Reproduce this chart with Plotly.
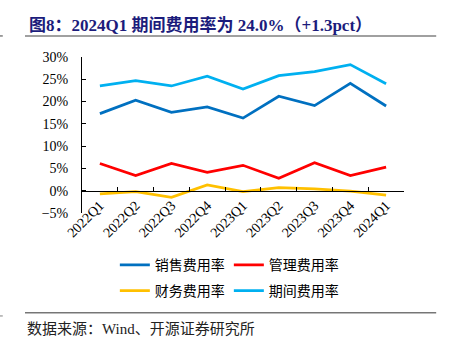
import plotly.graph_objects as go

quarters = ["2022Q1", "2022Q2", "2022Q3", "2022Q4", "2023Q1", "2023Q2", "2023Q3", "2023Q4", "2024Q1"]
sales_rate = [17.3, 20.3, 17.6, 18.8, 16.3, 21.2, 19.1, 24.1, 19.0]
admin_rate = [6.1, 3.4, 6.1, 4.1, 5.7, 2.8, 6.3, 3.4, 5.3]
fin_rate = [-0.7, -0.2, -1.5, 1.3, -0.2, 0.7, 0.4, -0.1, -1.0]
period_rate = [23.5, 24.7, 23.5, 25.7, 22.8, 25.8, 26.7, 28.3, 24.0]

names = ["销售费用率", "管理费用率", "财务费用率", "期间费用率"]
colors = ["#0070C0", "#FF0000", "#FFC000", "#00B0F0"]
series = [sales_rate, admin_rate, fin_rate, period_rate]
legends = ["legend", "legend", "legend2", "legend2"]

fig = go.Figure()
for nm, col, vals, lg in zip(names, colors, series, legends):
    fig.add_trace(go.Scatter(x=quarters, y=vals, name=nm, mode="lines",
                             line=dict(color=col, width=2.75), legend=lg))

serif = "Liberation Serif, Noto Sans CJK SC, serif"
ymin, ymax = -5, 30
legend_common = dict(orientation="h", xanchor="left", yanchor="middle",
                     font=dict(family="Noto Sans CJK SC", size=14, color="#000"),
                     entrywidth=69, entrywidthmode="pixels",
                     bgcolor="rgba(0,0,0,0)", itemwidth=30, tracegroupgap=0)

fig.update_layout(
    width=453, height=350,
    margin=dict(l=82, r=49, t=57, b=137),
    paper_bgcolor="white", plot_bgcolor="white",
    showlegend=True,
    legend=dict(x=0.102, y=-0.335, **legend_common),
    legend2=dict(x=0.102, y=-0.50, **legend_common),
    xaxis=dict(
        type="category", range=[-0.5, len(quarters) - 0.5],
        anchor="free", position=(0 - ymin) / (ymax - ymin),
        showline=True, linecolor="#000", linewidth=1,
        ticks="inside", ticklen=4, tickcolor="#000", tickson="boundaries",
        tickangle=-45, showgrid=False, zeroline=False,
        tickfont=dict(family=serif, size=14, color="#000"),
    ),
    yaxis=dict(
        range=[ymin, ymax], dtick=5, ticksuffix="%",
        showline=True, linecolor="#000", linewidth=1,
        ticks="inside", ticklen=4, tickcolor="#000",
        showgrid=False, zeroline=False, ticklabelstandoff=10,
        tickfont=dict(family=serif, size=14, color="#000"),
    ),
    annotations=[
        dict(text="<b>图8：2024Q1 期间费用率为 24.0%（+1.3pct）</b>", xref="paper", yref="paper",
             x=-0.172, y=1.205, xanchor="left", yanchor="middle", showarrow=False,
             font=dict(family=serif, size=17, color="#1c1c7c")),
        dict(text="数据来源：Wind、开源证券研究所", xref="paper", yref="paper",
             x=-0.177, y=-0.745, xanchor="left", yanchor="middle", showarrow=False,
             font=dict(family="Liberation Serif, Noto Sans CJK SC", size=15, color="#222")),
    ],
    shapes=[
        dict(type="line", xref="paper", yref="paper", x0=-0.177, x1=1.100, y0=1.135, y1=1.135,
             line=dict(color="#808080", width=1.5)),
        dict(type="line", xref="paper", yref="paper", x0=-0.255, x1=-0.246, y0=1.135, y1=1.135,
             line=dict(color="#808080", width=1.5)),
        dict(type="line", xref="paper", yref="paper", x0=-0.177, x1=1.100, y0=-0.640, y1=-0.640,
             line=dict(color="#333", width=1)),
        dict(type="line", xref="paper", yref="paper", x0=-0.255, x1=-0.246, y0=-0.660, y1=-0.660,
             line=dict(color="#808080", width=1)),
    ],
)

fig.write_html("out.html")
